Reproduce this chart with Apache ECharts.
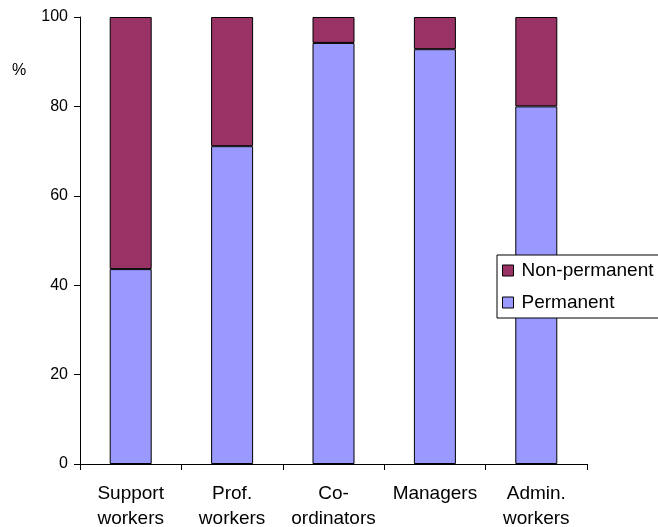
<!DOCTYPE html>
<html>
<head>
<meta charset="utf-8">
<script src="https://cdn.jsdelivr.net/npm/echarts@6/dist/echarts.min.js"></script>
<style>
  html, body { margin: 0; padding: 0; background: #fff; }
  #chart { width: 658px; height: 527px; }
</style>
</head>
<body>
<div id="chart"></div>
<script>
// Staff groups and share of permanent vs non-permanent employment (%)
const categories = ['Support\nworkers', 'Prof.\nworkers', 'Co-\nordinators', 'Managers', 'Admin.\nworkers'];
const permanent = [43.6, 71.1, 94.2, 92.8, 80.0];
const nonPermanent = [56.4, 28.9, 5.8, 7.2, 20.0];
const yTicks = [0, 20, 40, 60, 80, 100];

const font = 'Liberation Sans, Arial, sans-serif';
const chart = echarts.init(document.getElementById('chart'), null, { renderer: 'canvas' });

chart.setOption({
  animation: false,
  backgroundColor: '#fff',
  textStyle: { fontFamily: font, color: '#000' },
  grid: { left: 80, right: 71, top: 17, bottom: 63, containLabel: false, outerBoundsMode: 'none' },
  graphic: [{
    type: 'text',
    left: 12,
    top: 63,
    style: { text: '%', font: '16px ' + font, fill: '#000' }
  }],
  legend: {
    orient: 'vertical',
    left: 497,
    top: 255,
    data: ['Non-permanent', 'Permanent'],
    backgroundColor: '#fff',
    borderColor: '#000',
    borderWidth: 1,
    borderRadius: 0,
    padding: [6, 30, 6, 5],
    itemGap: 13,
    itemWidth: 11,
    itemHeight: 11,
    icon: 'rect',
    itemStyle: { borderColor: '#000', borderWidth: 1 },
    textStyle: { fontSize: 19, fontFamily: font, color: '#000', padding: [0, 0, 0, 3] }
  },
  xAxis: {
    type: 'category',
    data: categories,
    boundaryGap: true,
    axisLine: { lineStyle: { color: '#000', width: 1 } },
    axisTick: { show: true, interval: 0, length: 6, lineStyle: { color: '#000' } },
    axisLabel: {
      interval: 0,
      hideOverlap: false,
      fontSize: 19,
      color: '#000',
      fontFamily: font,
      lineHeight: 25,
      margin: 17
    },
    splitLine: { show: false }
  },
  yAxis: {
    type: 'value',
    min: yTicks[0],
    max: yTicks[yTicks.length - 1],
    interval: yTicks[1] - yTicks[0],
    axisLine: { show: true, lineStyle: { color: '#000', width: 1 } },
    axisTick: { show: true, length: 6, lineStyle: { color: '#000' } },
    axisLabel: { fontSize: 16, color: '#000', fontFamily: font, margin: 12 },
    splitLine: { show: false }
  },
  series: [
    {
      name: 'Permanent',
      type: 'bar',
      stack: 'total',
      data: permanent,
      barWidth: 42,
      itemStyle: { color: '#9999FF', borderColor: '#000', borderWidth: 1 }
    },
    {
      name: 'Non-permanent',
      type: 'bar',
      stack: 'total',
      data: nonPermanent,
      barWidth: 42,
      itemStyle: { color: '#993366', borderColor: '#000', borderWidth: 1 }
    }
  ]
});
</script>
</body>
</html>
